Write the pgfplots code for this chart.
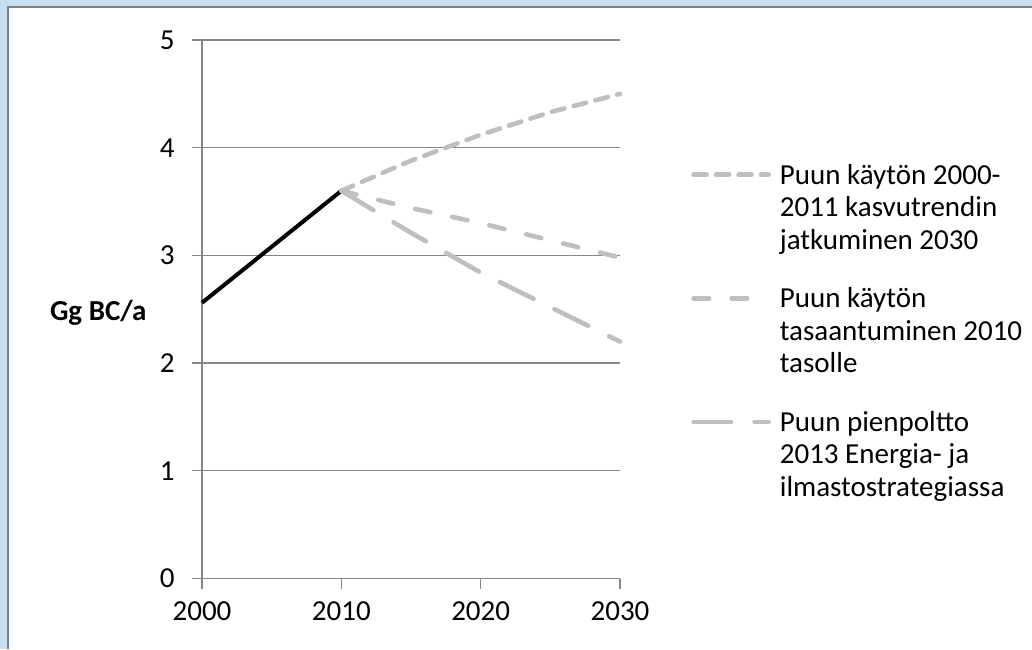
\documentclass[border=0pt]{standalone}
\usepackage{fontspec}
\setmainfont{Carlito}
\usepackage{pgfplots}
\pgfplotsset{compat=1.18}
\definecolor{bgblue}{RGB}{197,222,242}
\definecolor{framegray}{RGB}{128,128,128}
\definecolor{gridgray}{RGB}{134,134,134}
\definecolor{sergray}{RGB}{191,191,191}
\begin{document}
\begin{tikzpicture}[x=1pt,y=1pt]
\path[use as bounding box] (0,0) rectangle (1032,649);
\fill[bgblue] (0,0) rectangle (1032,649);
\fill[white] (8,0) rectangle (1032,642);
\draw[framegray, line width=2pt] (8,0) -- (8,642) -- (1032,642);
\begin{axis}[
  at={(202pt,70.5pt)}, anchor=south west,
  scale only axis, width=418pt, height=538.5pt,
  xmin=2000, xmax=2030, ymin=0, ymax=5,
  xtick={2000,2010,2020,2030}, ytick={0,1,2,3,4,5},
  axis lines=left,
  axis line style={-, gridgray, line width=1.3pt},
  tick align=outside, major tick length=10pt,
  tick style={gridgray, line width=1.3pt},
  ymajorgrids, grid style={gridgray, line width=1.3pt},
  font=\fontsize{29}{32.5}\selectfont,
  /pgf/number format/assume math mode=true,
  /pgf/number format/1000 sep={},
  ticklabel style={font=\fontsize{29}{32.5}\selectfont},
  yticklabel style={xshift=-14pt},
  xticklabel style={yshift=-10pt},
  clip=false,
  legend cell align=left,
  legend style={draw=none, fill=none, inner sep=0pt,
    at={(axis description cs:1.17,0.774)}, anchor=north west,
    row sep=33pt, column sep=7pt,
    cells={align=left},
    font=\fontsize{29}{32.5}\selectfont},
  legend image code/.code={\path[draw=none,fill=none] (0pt,-32.5pt) -- (0pt,32.5pt);
    \draw[#1] (0pt,32.5pt) -- (75pt,32.5pt);},
]
\addplot[black, line width=4pt, forget plot] coordinates {(2000,2.56) (2010,3.6)};
\addplot[sergray, line width=4.6pt, line cap=round, dash pattern=on 13pt off 9.5pt]
  coordinates {(2010,3.6) (2015,3.88) (2020,4.12) (2025,4.33) (2030,4.5)};
\addlegendentry{Puun käytön 2000-\\2011 kasvutrendin\\jatkuminen 2030}
\addplot[sergray, line width=4.6pt, line cap=round, dash pattern=on 15.5pt off 22.5pt]
  coordinates {(2010,3.6) (2015,3.44) (2020,3.3) (2025,3.14) (2030,2.98)};
\addlegendentry{Puun käytön\\tasaantuminen 2010\\tasolle}
\addplot[sergray, line width=4.6pt, line cap=round, dash pattern=on 37.5pt off 23.5pt]
  coordinates {(2010,3.6) (2015,3.21) (2020,2.84) (2025,2.52) (2030,2.2)};
\addlegendentry{Puun pienpoltto\\2013 Energia- ja\\ilmastostrategiassa}
\node[anchor=east, font=\fontsize{29}{32.5}\selectfont\bfseries] at (axis description cs:0,0.493) [xshift=-52pt] {Gg BC/a};
\end{axis}
\end{tikzpicture}
\end{document}
